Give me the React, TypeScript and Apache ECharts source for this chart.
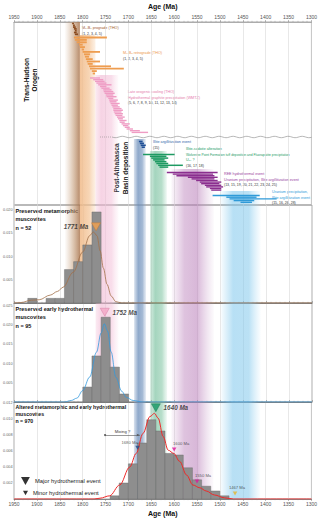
import { useEffect, useRef } from 'react';
import * as echarts from 'echarts';

const FONT = '"Liberation Sans", "DejaVu Sans", Arial, sans-serif';

// Age axis (Ma), older ages on the left
const AGE_YOUNGEST = 1300;
const AGE_OLDEST = 1950;
const AGE_INTERVAL = 50;

// Histogram bins: [older edge (Ma), younger edge (Ma), probability density]
const metamorphicBins = [
  [1920, 1900, 0.001],
  [1880, 1860, 0.001],
  [1860, 1840, 0.001],
  [1840, 1820, 0.0072],
  [1820, 1800, 0.0089],
  [1800, 1780, 0.0125],
  [1780, 1760, 0.0196],
];
const earlyHydrothermalBins = [
  [1800, 1780, 0.0039],
  [1780, 1760, 0.012],
  [1760, 1740, 0.0221],
  [1740, 1720, 0.0091],
  [1720, 1700, 0.0021],
];
const alteredBins = [
  [1740, 1720, 0.0004],
  [1720, 1700, 0.002],
  [1700, 1680, 0.0044],
  [1680, 1660, 0.007],
  [1660, 1640, 0.0099],
  [1640, 1620, 0.0085],
  [1620, 1600, 0.0057],
  [1600, 1580, 0.0055],
  [1580, 1560, 0.0039],
  [1560, 1540, 0.0024],
  [1540, 1520, 0.0016],
  [1520, 1500, 0.001],
  [1500, 1480, 0.0004],
];

// Kernel density estimates: [age (Ma), density]
const metamorphicKde = [
  [1950, 0], [1935, 0.0001], [1912, 0.0006], [1895, 0.0007], [1871, 0.0017],
  [1855, 0.0025], [1843, 0.0034], [1821, 0.0066], [1800, 0.011], [1785, 0.0145],
  [1777, 0.0153], [1769, 0.0145], [1762, 0.0112], [1755, 0.0075], [1747, 0.004],
  [1738, 0.0015], [1728, 0.0003], [1715, 0], [1300, 0],
];
const earlyHydrothermalKde = [
  [1950, 0], [1840, 0], [1825, 0.0004], [1813, 0.001], [1800, 0.003], [1785, 0.0065],
  [1770, 0.013], [1760, 0.018], [1753, 0.0204], [1746, 0.0185], [1738, 0.013],
  [1728, 0.0065], [1715, 0.0028], [1705, 0.0012], [1690, 0.0004], [1670, 0], [1300, 0],
];
const alteredKde = [
  [1950, 0], [1775, 0], [1762, 0.0001], [1741, 0.0004], [1719, 0.00175], [1697, 0.004],
  [1683, 0.0057], [1668, 0.0082], [1653, 0.0103], [1643, 0.0107], [1635, 0.0101],
  [1624, 0.0078], [1613, 0.0061], [1601, 0.0057], [1588, 0.0047], [1573, 0.003],
  [1559, 0.00175], [1544, 0.0014], [1530, 0.001], [1512, 0.0005], [1490, 0.00015],
  [1470, 0], [1300, 0],
];

// Peak ages (Ma) and the densities where their markers sit
const majorPeakAges = [1771, 1752, 1640];
const majorPeakDensities = [0.0164, 0.0234, 0.0114];
const minorPeakAges = [1680, 1600, 1550, 1467];
const minorPeakDensities = [0.0064, 0.0062, 0.0022, 0.0007];
const mixingAges = [1751, 1675];
const mixingDensity = 0.008;

const sampleSizes = [52, 95, 970];

// Published age ranges: [older (Ma), younger (Ma)]
const thoPrograde = [
  [1823, 1819], [1821, 1817], [1821, 1815], [1819, 1813], [1817, 1813], [1819, 1813], [1817, 1810],
];
const thoRetrograde = [
  [1819, 1747], [1817, 1791], [1813, 1791], [1808, 1800], [1806, 1795], [1802, 1797],
  [1800, 1762], [1797, 1784], [1795, 1786], [1793, 1778], [1791, 1762], [1789, 1778],
  [1786, 1738], [1784, 1710], [1780, 1769], [1778, 1773],
];
const lateOrogenic = [
  [1784, 1762], [1777, 1755], [1773, 1752], [1770, 1748], [1766, 1737], [1762, 1748],
  [1759, 1741], [1755, 1737], [1754, 1733], [1752, 1730], [1749, 1733], [1748, 1726],
  [1744, 1733], [1742, 1723], [1741, 1726], [1739, 1719], [1737, 1723], [1735, 1719],
  [1733, 1715], [1733, 1712], [1732, 1715], [1730, 1712], [1728, 1713], [1725, 1708],
  [1723, 1712], [1720, 1704], [1719, 1708], [1715, 1697], [1712, 1701], [1708, 1697],
  [1704, 1690], [1697, 1675], [1693, 1657],
];
const illiteEvent = [[1677, 1669], [1675, 1666], [1673, 1662], [1671, 1664]];
const illiteSudoite = [
  [1668, 1599], [1653, 1617], [1650, 1613], [1646, 1621], [1642, 1617], [1639, 1613],
  [1635, 1581], [1632, 1613],
];
const reeEvent = [
  [1616, 1505], [1603, 1515], [1595, 1512], [1570, 1505], [1562, 1512], [1552, 1505],
  [1544, 1497], [1541, 1501], [1533, 1497], [1530, 1493], [1522, 1497], [1519, 1497],
];
const uraniumEvent = [[1516, 1413], [1486, 1420], [1479, 1376], [1470, 1425], [1455, 1430]];

// Event bands: [older edge, younger edge] (Ma)
const bandThoPrograde = [1840, 1806];
const bandThoRetrograde = [1806, 1772];
const bandLateOrogenic = [1772, 1722];
const bandIllite = [1688, 1662];
const bandIlliteSudoite = [1653, 1616];
const bandRee = [1606, 1514];
const bandUranium = [1498, 1412];

// Layout
const LEFT = 14;
const RIGHT = 8;
const PANELS = [
  { top: 22, height: 183 },
  { top: 205, height: 98 },
  { top: 303, height: 99 },
  { top: 402, height: 97 },
];
const PANEL_MAX = [183, 0.0211, 0.0258, 0.01212];
const PANEL_STEP = [0, 0.005, 0.005, 0.002];

const bandStyles = [
  { range: bandThoPrograde, grids: [0, 1], timelineTop: 0,
    stops: [[0, 'rgba(200,160,125,0)'], [0.55, 'rgba(190,145,105,0.5)'], [1, 'rgba(170,118,80,0.85)']] },
  { range: bandThoRetrograde, grids: [0, 1], timelineTop: 13,
    stops: [[0, 'rgba(240,185,135,0.85)'], [0.6, 'rgba(244,196,150,0.7)'], [1, 'rgba(248,214,180,0.35)']] },
  { range: bandLateOrogenic, grids: [0, 1, 2], timelineTop: 53,
    stops: [[0, 'rgba(244,196,218,0.35)'], [0.25, 'rgba(240,182,210,0.6)'], [0.7, 'rgba(242,188,214,0.5)'], [1, 'rgba(246,210,226,0.1)']] },
  { range: bandIllite, grids: [0, 1, 2, 3], timelineTop: 117,
    stops: [[0, 'rgba(125,155,195,0.3)'], [0.35, 'rgba(105,140,185,0.75)'], [0.7, 'rgba(115,148,190,0.65)'], [1, 'rgba(140,168,205,0.2)']] },
  { range: bandIlliteSudoite, grids: [0, 1, 2, 3], timelineTop: 129,
    stops: [[0, 'rgba(135,200,168,0.35)'], [0.3, 'rgba(115,190,155,0.65)'], [0.7, 'rgba(125,195,160,0.55)'], [1, 'rgba(150,210,180,0.15)']] },
  { range: bandRee, grids: [0, 1, 2, 3], timelineTop: 147,
    stops: [[0, 'rgba(200,150,200,0.08)'], [0.3, 'rgba(190,135,190,0.5)'], [0.6, 'rgba(185,125,185,0.55)'], [1, 'rgba(205,165,205,0.05)']] },
  { range: bandUranium, grids: [0, 1, 2, 3], timelineTop: 169,
    stops: [[0, 'rgba(140,205,238,0.08)'], [0.3, 'rgba(125,198,236,0.55)'], [0.7, 'rgba(130,200,236,0.55)'], [1, 'rgba(160,215,242,0.05)']] },
];

const timelineGroups = [
  { ranges: thoPrograde, top: 1.5, step: 1.8, thick: 1.7, color: '#8a4a1e' },
  { ranges: thoRetrograde, top: 15.5, step: 2.4, thick: 1.8, color: '#ee9d50' },
  { ranges: lateOrogenic, top: 56, step: 1.7, thick: 1.4, color: '#ef9cc4' },
  { ranges: illiteEvent, top: 119.5, step: 1.9, thick: 1.6, color: '#1f4f96' },
  { ranges: illiteSudoite, top: 132.5, step: 1.8, thick: 1.5, color: '#1e9a62' },
  { ranges: reeEvent, top: 150.5, step: 1.6, thick: 1.4, color: '#8b2f8f' },
  { ranges: uraniumEvent, top: 173.5, step: 1.7, thick: 1.4, color: '#2f9ad8' },
];

const groupLabels = [
  { x: 82, y: 28, color: '#a0582a', lines: ['M₂-B₂ prograde (THO)'], refs: '(1, 2, 3, 4, 5)' },
  { x: 123, y: 53, color: '#ec9648', lines: ['M₂-B₃ retrograde (THO)'], refs: '(1, 2, 3, 4, 5)' },
  { x: 128, y: 92, color: '#e57aab', lines: ['Late orogenic cooling (THO)', 'Hydrothermal graphite precipitation (WMTZ)'], refs: '(5, 6, 7, 8, 9, 10, 11, 12, 13, 14)' },
  { x: 153, y: 142, color: '#2e5fa8', lines: ['Illite argillitization event'], refs: '(15)' },
  { x: 186, y: 149, color: '#1d9a62', lines: ['Illite-sudoite alteration', 'Wolverine Point Formation tuff deposition and Fluorapatite precipitation', 'U₀₁ ?'], refs: '(16, 17, 18)' },
  { x: 224, y: 174, color: '#9a3fa0', lines: ['REE hydrothermal event', 'Uranium precipitation, Illite argillitization event'], refs: '(13, 15, 19, 20, 21, 22, 23, 24, 25)' },
  { x: 272, y: 192, color: '#2b9bd8', lines: ['Uranium precipitation,', 'Illite argillitization event'], refs: '(15, 16, 26, 28)' },
];

const panelTitles = [
  'Preserved metamorphic\nmuscovites',
  'Preserved early hydrothermal\nmuscovites',
  'Altered metamorphic and early hydrothermal\nmuscovites',
];

const majorColors = [
  { fill: '#f4a24f', border: '#c8762e' },
  { fill: '#f4a6c6', border: '#d0709a' },
  { fill: '#179864', border: '#0f7048' },
];
const minorColors = ['#1f4e8c', '#e0179a', '#e0179a', '#e6b52e'];
const minorLabelOffsets = [[-8, 0], [7, 0], [6, 0], [2, 0]];

function buildOption() {
  const xAxes = PANELS.map((_, i) => ({
    type: 'value',
    gridIndex: i,
    min: AGE_YOUNGEST,
    max: AGE_OLDEST,
    interval: AGE_INTERVAL,
    inverse: true,
    position: i === 0 ? 'top' : 'bottom',
    name: i === 0 || i === 3 ? 'Age (Ma)' : '',
    nameLocation: 'middle',
    nameGap: i === 0 ? 12 : 10.5,
    nameTextStyle: { fontFamily: FONT, fontSize: 7, fontWeight: 'bold', color: '#111' },
    splitLine: { show: true, lineStyle: { color: '#d9d9d9', width: 0.6 } },
    axisLine: { show: true, onZero: false, lineStyle: { color: i === 0 ? '#999' : '#666', width: 0.7 } },
    axisTick: { show: true, inside: i === 1 || i === 2, length: 2, lineStyle: { color: '#777', width: 0.5 } },
    minorTick: { show: true, splitNumber: 5, length: 1.2, lineStyle: { color: '#888', width: 0.4 } },
    axisLabel: {
      show: i === 0 || i === 3,
      fontFamily: FONT,
      fontSize: 5,
      color: '#555',
      margin: i === 0 ? 3 : 2,
      formatter: (v: number) => String(v),
    },
  }));

  const yAxes = PANELS.map((_, i) => ({
    type: 'value',
    gridIndex: i,
    min: 0,
    max: PANEL_MAX[i],
    inverse: i === 0,
    interval: i === 0 ? undefined : PANEL_STEP[i],
    show: i !== 0,
    splitLine: { show: false },
    axisLine: { show: false },
    axisTick: { show: false },
    axisLabel: {
      show: i !== 0,
      showMaxLabel: false,
      fontFamily: FONT,
      fontSize: 3.8,
      color: '#666',
      margin: 1.5,
      formatter: (v: number) => (v === 0 ? '' : v.toFixed(3)),
    },
  }));

  const series: any[] = [];

  // Event bands
  PANELS.forEach((_, g) => {
    const data = bandStyles
      .map((b, idx) => ({ b, idx }))
      .filter(({ b }) => b.grids.includes(g))
      .map(({ b, idx }) => [b.range[0], b.range[1], idx, g === 0 ? b.timelineTop : 0]);
    series.push({
      type: 'custom',
      xAxisIndex: g,
      yAxisIndex: g,
      silent: true,
      z: 1,
      encode: { x: [0, 1], y: 3 },
      data,
      renderItem: (params: any, api: any) => {
        const cs = params.coordSys;
        const a = api.coord([api.value(0), api.value(3)]);
        const b = api.coord([api.value(1), api.value(3)]);
        const top = g === 0 ? a[1] : cs.y;
        const stops = bandStyles[api.value(2)].stops.map(([offset, color]) => ({ offset, color }));
        return {
          type: 'rect',
          shape: { x: Math.min(a[0], b[0]), y: top, width: Math.abs(b[0] - a[0]), height: cs.y + cs.height - top },
          style: { fill: new echarts.graphic.LinearGradient(0, 0, 1, 0, stops as any) },
        };
      },
    });
  });

  // Timeline age ranges
  timelineGroups.forEach((grp) => {
    series.push({
      type: 'custom',
      xAxisIndex: 0,
      yAxisIndex: 0,
      silent: true,
      z: 3,
      encode: { x: [0, 1], y: 2 },
      data: grp.ranges.map((r, i) => [r[0], r[1], grp.top + i * grp.step]),
      renderItem: (_p: any, api: any) => {
        const a = api.coord([api.value(0), api.value(2)]);
        const b = api.coord([api.value(1), api.value(2)]);
        return {
          type: 'rect',
          shape: { x: Math.min(a[0], b[0]), y: a[1] - grp.thick / 2, width: Math.max(Math.abs(b[0] - a[0]), 1), height: grp.thick },
          style: { fill: grp.color },
        };
      },
    });
  });

  // Histograms
  [metamorphicBins, earlyHydrothermalBins, alteredBins].forEach((bins, k) => {
    const g = k + 1;
    series.push({
      type: 'custom',
      xAxisIndex: g,
      yAxisIndex: g,
      silent: true,
      z: 3,
      encode: { x: [0, 1], y: 2 },
      data: bins,
      renderItem: (_p: any, api: any) => {
        const a = api.coord([api.value(0), api.value(2)]);
        const b = api.coord([api.value(1), 0]);
        return {
          type: 'rect',
          shape: { x: Math.min(a[0], b[0]), y: a[1], width: Math.abs(b[0] - a[0]), height: b[1] - a[1] },
          style: { fill: '#8e8e8e', stroke: '#666', lineWidth: 0.4 },
        };
      },
    });
  });

  // KDE curves
  const kdeColors = ['#a3714a', '#3399dd', '#ee2a2a'];
  [metamorphicKde, earlyHydrothermalKde, alteredKde].forEach((kde, k) => {
    const g = k + 1;
    const s: any = {
      type: 'line',
      xAxisIndex: g,
      yAxisIndex: g,
      silent: true,
      z: 4,
      data: kde,
      smooth: 0.35,
      smoothMonotone: 'x',
      showSymbol: false,
      lineStyle: { color: kdeColors[k], width: k === 2 ? 1 : 0.8 },
    };
    if (g === 3) {
      s.markLine = {
        silent: true,
        symbol: ['circle', 'arrow'],
        symbolSize: [2, 3.5],
        lineStyle: { color: '#555', width: 0.6, type: 'solid' },
        label: { show: true, position: 'middle', formatter: 'Mixing ?', fontFamily: FONT, fontSize: 4.2, color: '#333', distance: 1.5 },
        data: [[{ coord: [mixingAges[0], mixingDensity] }, { coord: [mixingAges[1], mixingDensity] }]],
      };
    }
    series.push(s);
  });

  // Major peaks
  majorPeakAges.forEach((age, k) => {
    const g = k + 1;
    series.push({
      type: 'scatter',
      name: 'Major hydrothermal event',
      xAxisIndex: g,
      yAxisIndex: g,
      silent: true,
      z: 6,
      symbol: 'triangle',
      symbolRotate: 180,
      symbolSize: [9, 8],
      itemStyle: { color: '#000' },
      data: [{
        value: [age, majorPeakDensities[k]],
        itemStyle: { color: majorColors[k].fill, borderColor: majorColors[k].border, borderWidth: 0.5 },
        label: {
          show: true,
          position: k === 0 ? 'left' : 'right',
          distance: 3,
          formatter: `${age} Ma`,
          fontFamily: FONT,
          fontSize: 6.3,
          fontWeight: 'bold',
          fontStyle: 'italic',
          color: '#222',
        },
      }],
    });
  });

  // Minor peaks
  series.push({
    type: 'scatter',
    name: 'Minor hydrothermal event',
    xAxisIndex: 3,
    yAxisIndex: 3,
    silent: true,
    z: 6,
    symbol: 'triangle',
    symbolRotate: 180,
    symbolSize: [4.5, 4],
    itemStyle: { color: '#000' },
    data: minorPeakAges.map((age, k) => ({
      value: [age, minorPeakDensities[k]],
      itemStyle: { color: minorColors[k] },
      label: {
        show: true,
        position: 'top',
        distance: 1.5,
        offset: minorLabelOffsets[k],
        formatter: `${age} Ma`,
        fontFamily: FONT,
        fontSize: 4.2,
        color: '#333',
      },
    })),
  });

  // Text annotations
  const graphic: any[] = [];
  groupLabels.forEach((gl) => {
    const lines = [...gl.lines];
    lines.forEach((line, i) => {
      graphic.push({
        type: 'text', x: gl.x, y: gl.y + i * 5.7, silent: true,
        style: { text: line, fill: gl.color, fontFamily: FONT, fontSize: line.length > 55 ? 3.3 : 3.7, verticalAlign: 'middle', align: 'left' },
      });
    });
    graphic.push({
      type: 'text', x: gl.x, y: gl.y + lines.length * 5.7, silent: true,
      style: { text: gl.refs, fill: '#333', fontFamily: FONT, fontSize: 3.5, verticalAlign: 'middle', align: 'left' },
    });
  });

  graphic.push({
    type: 'text', x: 30, y: 80, rotation: Math.PI / 2, silent: true,
    style: { text: 'Trans-Hudson\nOrogen', fill: '#111', fontFamily: FONT, fontSize: 6.5, fontWeight: 'bold', lineHeight: 8, align: 'center', verticalAlign: 'middle' },
  });
  graphic.push({
    type: 'text', x: 121, y: 168, rotation: Math.PI / 2, silent: true,
    style: { text: 'Post-Athabasca\nBasin deposition', fill: '#111', fontFamily: FONT, fontSize: 6.5, fontWeight: 'bold', lineHeight: 8.5, align: 'center', verticalAlign: 'middle' },
  });

  panelTitles.forEach((t, k) => {
    const p = PANELS[k + 1];
    graphic.push({
      type: 'text', x: LEFT + 1.5, y: p.top + 1.5, silent: true,
      style: {
        text: `${t}\nn = ${sampleSizes[k]}`,
        fill: '#111', fontFamily: FONT, fontSize: k === 2 ? 5.2 : 5.5, fontWeight: 'bold',
        lineHeight: k === 2 ? 7 : 8.5, align: 'left', verticalAlign: 'top',
      },
    });
  });

  // Break symbol between the orogen and basin sections
  const breakY = PANELS[0].top + 115;
  const wave: number[][] = [];
  for (let x = 112; x <= 320 - RIGHT; x += 1.5) {
    wave.push([x, breakY + 0.7 * Math.sin((x - 112) / 2.2)]);
  }
  graphic.push({ type: 'polyline', silent: true, z: 10, shape: { points: wave }, style: { stroke: '#888', lineWidth: 0.6, fill: null } });
  graphic.push({ type: 'line', silent: true, z: 10, shape: { x1: 100, y1: breakY, x2: 112, y2: breakY }, style: { stroke: '#777', lineWidth: 0.7, lineDash: [0.7, 1.3] } });

  return {
    animation: false,
    backgroundColor: '#fff',
    textStyle: { fontFamily: FONT },
    grid: PANELS.map((p) => ({
      left: LEFT, right: RIGHT, top: p.top, height: p.height,
      show: true, borderColor: '#777', borderWidth: 0.6, backgroundColor: 'transparent',
    })),
    xAxis: xAxes,
    yAxis: yAxes,
    legend: [
      {
        data: ['Major hydrothermal event'], left: 16, top: 472, orient: 'vertical',
        selectedMode: false, icon: 'path://M0,0L10,0L5,9Z', itemWidth: 9, itemHeight: 8,
        textStyle: { fontFamily: FONT, fontSize: 5.8, color: '#222' },
      },
      {
        data: ['Minor hydrothermal event'], left: 18, top: 485, orient: 'vertical',
        selectedMode: false, icon: 'path://M0,0L10,0L5,9Z', itemWidth: 5, itemHeight: 4.5,
        textStyle: { fontFamily: FONT, fontSize: 5.8, color: '#222' },
      },
    ],
    graphic,
    series,
  };
}

export default function App() {
  const ref = useRef<HTMLDivElement>(null);
  useEffect(() => {
    document.body.style.margin = '0';
    if (!ref.current) return;
    const chart = echarts.init(ref.current, undefined, { renderer: 'svg' });
    chart.setOption(buildOption() as any);
    return () => chart.dispose();
  }, []);
  return <div ref={ref} style={{ width: 320, height: 521, background: '#fff' }} />;
}
